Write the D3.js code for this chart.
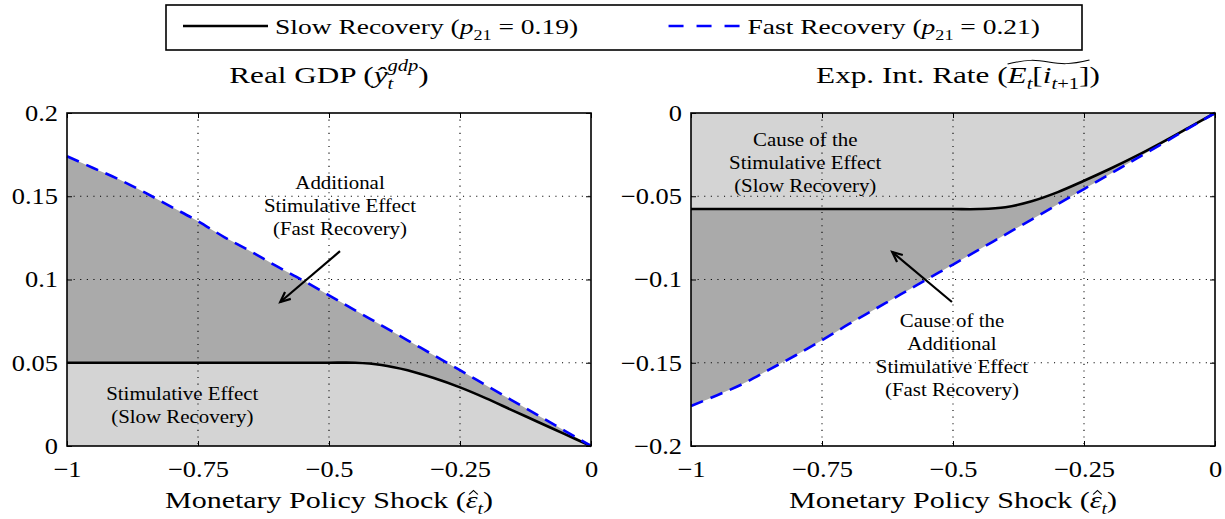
<!DOCTYPE html>
<html>
<head>
<meta charset="utf-8">
<script src="https://cdn.jsdelivr.net/npm/d3@7"></script>
<style>
  body { margin: 0; background: #fff; }
  text { font-family: "Liberation Serif", "DejaVu Serif", serif; fill: #000; white-space: pre; }
</style>
</head>
<body>
<svg width="1225" height="519"></svg>
<script>
// values
var shock = [-1, -0.95, -0.9, -0.85, -0.8, -0.75, -0.7, -0.65, -0.6, -0.55, -0.5,
             -0.45, -0.4, -0.35, -0.3, -0.25, -0.2, -0.15, -0.1, -0.05, 0];
var gdpSlow = [0.05, 0.05, 0.05, 0.05, 0.05, 0.05, 0.05, 0.05, 0.05, 0.05, 0.05,
               0.05, 0.0487, 0.0455, 0.0408, 0.0352, 0.0286, 0.0214, 0.0143, 0.0071, 0];
var gdpFast = [0.174, 0.167, 0.16, 0.152, 0.1435, 0.135, 0.1255, 0.117, 0.108, 0.0995, 0.0905,
               0.0815, 0.0725, 0.0635, 0.0545, 0.0455, 0.0364, 0.0273, 0.0182, 0.0091, 0];
var rateSlow = [-0.0577, -0.0577, -0.0577, -0.0577, -0.0577, -0.0577, -0.0577, -0.0577, -0.0577, -0.0577, -0.0577,
                -0.0577, -0.0566, -0.053, -0.0475, -0.0407, -0.0335, -0.0258, -0.0175, -0.0088, 0];
var rateFast = [-0.176, -0.1695, -0.1625, -0.154, -0.1455, -0.1365, -0.127, -0.118, -0.109, -0.1, -0.091,
                -0.082, -0.073, -0.064, -0.0548, -0.0457, -0.0366, -0.0274, -0.0183, -0.0091, 0];

var xTicks = [-1, -0.75, -0.5, -0.25, 0];
var gdpTicks = [0, 0.05, 0.1, 0.15, 0.2];
var rateTicks = [-0.2, -0.15, -0.1, -0.05, 0];

var svg = d3.select("svg");
var SX = 1.25; // the source figure is stretched sideways

// rich text: segments laid out one after the other, sub/sup can stack
function rich(parent, x, y, segs, size, anchor, sx) {
  var grp = parent.append("g").attr("transform", "translate(" + x + "," + y + ") scale(" + sx + ",1)");
  var inner = grp.append("g");
  var cx = 0, lastW = 0, pos = [];
  segs.forEach(function (s) {
    var fs = s.sh ? size * 0.66 : size;
    var dy = s.sh == "sub" ? size * 0.26 : s.sh == "sup" ? -size * 0.5 : 0;
    if (s.back) cx -= lastW;
    var t = inner.append("text")
      .attr("x", cx).attr("y", dy)
      .style("font-size", fs + "px")
      .style("font-style", s.i ? "italic" : "normal")
      .text(s.t);
    var w = t.node().getComputedTextLength();
    pos.push([cx, cx + w]);
    if (s.back) cx += Math.max(w, lastW); else cx += w;
    lastW = w;
  });
  var shift = anchor == "middle" ? -cx / 2 : anchor == "end" ? -cx : 0;
  inner.attr("transform", "translate(" + shift + ",0)");
  return { inner: inner, width: cx * sx, pos: pos };
}

function panel(left, yDomain, yTickVals, slow, fast) {
  var top = 113, bottom = 446, right = left + 524;
  var x = d3.scaleLinear().domain([-1, 0]).range([left, right]);
  var y = d3.scaleLinear().domain(yDomain).range([bottom, top]);
  var g = svg.append("g");
  var idx = d3.range(shock.length);
  var curve = d3.curveCatmullRom.alpha(0.5);

  // light gray: between the slow line and zero
  g.append("path")
    .datum(idx)
    .attr("d", d3.area().curve(curve)
      .x(function (i) { return x(shock[i]); })
      .y0(y(0))
      .y1(function (i) { return y(slow[i]); }))
    .style("fill", "#d4d4d4");
  // dark gray: between the two lines
  g.append("path")
    .datum(idx)
    .attr("d", d3.area().curve(curve)
      .x(function (i) { return x(shock[i]); })
      .y0(function (i) { return y(slow[i]); })
      .y1(function (i) { return y(fast[i]); }))
    .style("fill", "#aaaaaa");

  // dotted grid
  var grid = g.append("g").style("stroke", "#000").style("stroke-width", 1.1).style("stroke-dasharray", "1.1,5.5");
  xTicks.slice(1, -1).forEach(function (v) {
    grid.append("line").attr("x1", x(v)).attr("x2", x(v)).attr("y1", top).attr("y2", bottom);
  });
  yTickVals.slice(1, -1).forEach(function (v) {
    grid.append("line").attr("x1", left).attr("x2", right).attr("y1", y(v)).attr("y2", y(v));
  });

  // lines
  var line = function (arr) {
    return d3.line().curve(curve)
      .x(function (i) { return x(shock[i]); })
      .y(function (i) { return y(arr[i]); })(idx);
  };
  g.append("path").attr("d", line(slow))
    .style("fill", "none").style("stroke", "#000").style("stroke-width", 2.6);
  g.append("path").attr("d", line(fast))
    .style("fill", "none").style("stroke", "#0000ff").style("stroke-width", 2.6)
    .style("stroke-dasharray", "13,8");

  // axes with inner ticks on all sides
  var fmt = d3.format("~g");
  var tsx = 1.15;
  var ax = function (a) {
    a.select(".domain").remove();
    a.selectAll("line").style("stroke", "#000").style("stroke-width", 1);
  };
  g.append("g").attr("transform", "translate(0," + bottom + ")")
    .call(d3.axisBottom(x).tickValues(xTicks).tickSize(-5).tickPadding(15).tickFormat(fmt))
    .call(ax)
    .selectAll("text")
    .attr("transform", "scale(" + tsx + ",1)")
    .style("font-family", "Liberation Serif").style("font-size", "23px");
  g.append("g").attr("transform", "translate(0," + top + ")")
    .call(d3.axisTop(x).tickValues(xTicks).tickSize(-5).tickFormat(""))
    .call(ax);
  g.append("g").attr("transform", "translate(" + left + ",0)")
    .call(d3.axisLeft(y).tickValues(yTickVals).tickSize(-5).tickPadding(9 / tsx).tickFormat(fmt))
    .call(ax)
    .selectAll("text")
    .attr("transform", "scale(" + tsx + ",1)")
    .style("font-family", "Liberation Serif").style("font-size", "23px");
  g.append("g").attr("transform", "translate(" + right + ",0)")
    .call(d3.axisRight(y).tickValues(yTickVals).tickSize(-5).tickFormat(""))
    .call(ax);

  // frame
  g.append("rect").attr("x", left).attr("y", top).attr("width", right - left).attr("height", bottom - top)
    .style("fill", "none").style("stroke", "#000").style("stroke-width", 1.6);

  // x label, with a drawn hat over epsilon
  var xl = rich(g, (left + right) / 2, 508, [
    { t: "Monetary Policy Shock (" },
    { t: "\u03b5", i: true },
    { t: "t", i: true, sh: "sub" },
    { t: ")" }
  ], 24, "middle", SX);
  var hc = (xl.pos[1][0] + xl.pos[1][1]) / 2 + 1.5;
  xl.inner.append("path")
    .attr("d", "M" + (hc - 3.5) + ",-13.5 L" + hc + ",-17.5 L" + (hc + 3.5) + ",-13.5")
    .style("fill", "none").style("stroke", "#000").style("stroke-width", 1.1);

  return { g: g, x: x, y: y };
}

function note(p, xv, yv, lines) {
  lines.forEach(function (s, k) {
    rich(p.g, p.x(xv), p.y(yv) + k * 23, [{ t: s }], 19, "middle", 1.1);
  });
}

function arrow(p, from, to) {
  var x1 = p.x(from[0]), y1 = p.y(from[1]), x2 = p.x(to[0]), y2 = p.y(to[1]);
  var a = Math.atan2(y2 - y1, x2 - x1), L = 11, w = 0.42;
  p.g.append("line").attr("x1", x1).attr("y1", y1).attr("x2", x2).attr("y2", y2)
    .style("stroke", "#000").style("stroke-width", 2.2);
  p.g.append("path")
    .attr("d", "M" + (x2 - L * Math.cos(a - w)) + "," + (y2 - L * Math.sin(a - w)) +
      "L" + x2 + "," + y2 +
      "L" + (x2 - L * Math.cos(a + w)) + "," + (y2 - L * Math.sin(a + w)))
    .style("fill", "none").style("stroke", "#000").style("stroke-width", 2.2);
}

// left: real GDP
var p1 = panel(67, [0, 0.2], gdpTicks, gdpSlow, gdpFast);
note(p1, -0.479, 0.1544, ["Additional", "Stimulative Effect", "(Fast Recovery)"]);
note(p1, -0.78, 0.0276, ["Stimulative Effect", "(Slow Recovery)"]);
arrow(p1, [-0.479, 0.117], [-0.593, 0.0865]);
rich(svg, 329, 83, [
  { t: "Real GDP (" },
  { t: "\u0177", i: true },
  { t: "t", i: true, sh: "sub" },
  { t: "gdp", i: true, sh: "sup", back: true },
  { t: ")" }
], 24, "middle", 1.3);

// right: expected interest rate
var p2 = panel(691, [-0.2, 0], rateTicks, rateSlow, rateFast);
note(p2, -0.782, -0.0198, ["Cause of the", "Stimulative Effect", "(Slow Recovery)"]);
note(p2, -0.502, -0.1285, ["Cause of the", "Additional", "Stimulative Effect", "(Fast Recovery)"]);
arrow(p2, [-0.502, -0.1135], [-0.616, -0.0835]);
var t2 = rich(svg, 958, 83, [
  { t: "Exp. Int. Rate (" },
  { t: "E", i: true },
  { t: "t", i: true, sh: "sub" },
  { t: "[" },
  { t: "i", i: true },
  { t: "t", i: true, sh: "sub" },
  { t: "+1", sh: "sub" },
  { t: "]" },
  { t: ")" }
], 24, "middle", 1.3);
// wide tilde over E_t[i_{t+1}]
var ta = t2.pos[1][0], tb = t2.pos[7][1], tw = tb - ta, ty = -21;
t2.inner.append("path")
  .attr("d", "M" + ta + "," + (ty + 2) +
    " C" + (ta + tw * 0.25) + "," + (ty - 3) + " " + (ta + tw * 0.35) + "," + (ty - 2) + " " + (ta + tw * 0.5) + "," + ty +
    " S" + (ta + tw * 0.75) + "," + (ty + 3) + " " + tb + "," + (ty - 2))
  .style("fill", "none").style("stroke", "#000").style("stroke-width", 1);

// legend
var leg = svg.append("g");
leg.append("rect").attr("x", 166).attr("y", 5).attr("width", 916).attr("height", 45)
  .style("fill", "#fff").style("stroke", "#000").style("stroke-width", 1.6);
leg.append("line").attr("x1", 183).attr("x2", 268).attr("y1", 26).attr("y2", 26)
  .style("stroke", "#000").style("stroke-width", 2.6);
rich(leg, 275, 34, [
  { t: "Slow Recovery (" },
  { t: "p", i: true },
  { t: "21", sh: "sub" },
  { t: " = 0.19)" }
], 22, "start", SX);
var fastLab = rich(leg, 1040, 34, [
  { t: "Fast Recovery (" },
  { t: "p", i: true },
  { t: "21", sh: "sub" },
  { t: " = 0.21)" }
], 22, "end", SX);
var fx = 1040 - fastLab.width - 7;
leg.append("line").attr("x1", fx - 72).attr("x2", fx).attr("y1", 26).attr("y2", 26)
  .style("stroke", "#0000ff").style("stroke-width", 2.6).style("stroke-dasharray", "15,13");
</script>
</body>
</html>
